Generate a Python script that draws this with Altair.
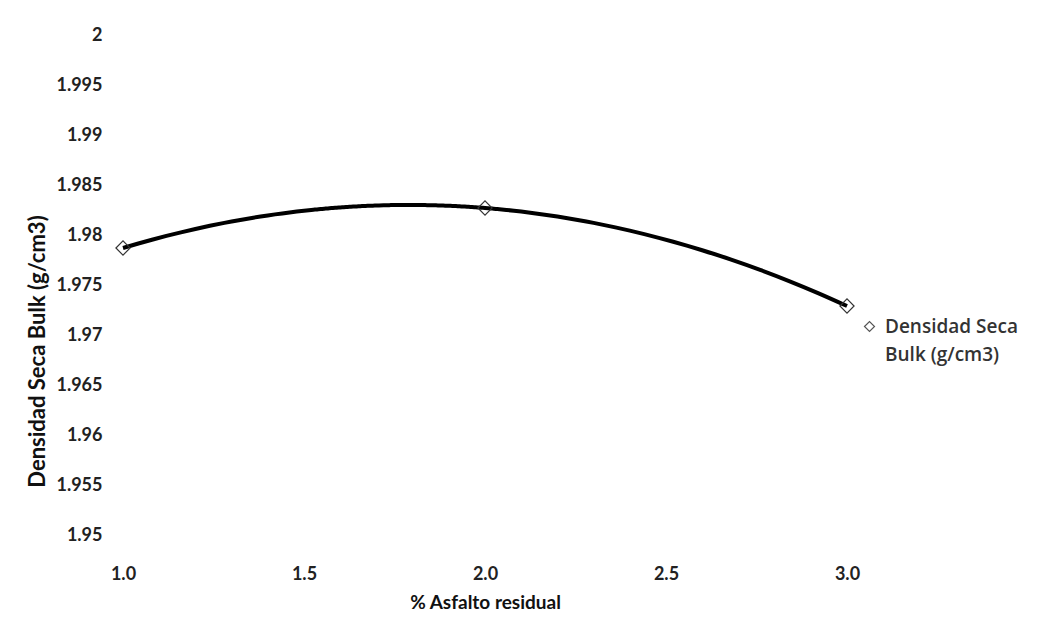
import altair as alt
import pandas as pd

asfalto = [1.0, 2.0, 3.0]
densidad = [1.9787, 1.9827, 1.9729]
serie = "Densidad Seca Bulk (g/cm3)"

df = pd.DataFrame({"x": asfalto, "y": densidad, "s": [serie] * 3})

xs = alt.Scale(domain=[1.0, 3.0], nice=False, zero=False)
ys = alt.Scale(domain=[1.95, 2.0], nice=False, zero=False)

xax = alt.Axis(values=[1.0, 1.5, 2.0, 2.5, 3.0], format=".1f", grid=False, domain=False, ticks=False,
               labelPadding=30, labelFontSize=18, labelFont="Lato", labelFontWeight="bold", labelColor="#222",
               title="% Asfalto residual", titleFontSize=19, titleFont="Lato", titleFontWeight="bold",
               titlePadding=10, titleColor="#111", labelFlush=False)
yax = alt.Axis(values=[1.95 + 0.005 * i for i in range(11)], grid=False, domain=False, ticks=False,
               labelExpr="datum.value == 2 ? '2' : format(datum.value, '.3~f')",
               labelPadding=21, labelFontSize=18, labelFont="Lato", labelFontWeight="bold", labelColor="#222",
               title="Densidad Seca Bulk (g/cm3)", titleFontSize=22, titleFont="Lato", titleFontWeight="bold",
               titleX=-74, titleY=316, titleColor="#111")

fit = alt.Chart(df).transform_regression("x", "y", method="poly", order=2, extent=[1.0, 3.0]).mark_line(
    color="black", strokeWidth=4, interpolate="monotone"
).encode(
    x=alt.X("x:Q", scale=xs, axis=xax),
    y=alt.Y("y:Q", scale=ys, axis=yax),
)

pts = alt.Chart(df).mark_point(shape="diamond", size=200, filled=False, color="#333",
                               strokeWidth=1.2, opacity=1).encode(
    x=alt.X("x:Q", scale=xs),
    y=alt.Y("y:Q", scale=ys),
    shape=alt.Shape("s:N", scale=alt.Scale(range=["diamond"]),
                    legend=alt.Legend(title=None, orient="none", legendX=737, legendY=282,
                                      labelFont="Open Sans", labelFontSize=19, labelColor="#333",
                                      labelFontWeight=600,
                                      labelExpr="['Densidad Seca', 'Bulk (g/cm3)']",
                                      symbolStrokeColor="#555", symbolType="diamond",
                                      symbolStrokeWidth=1.2, symbolSize=100, labelLimit=300,
                                      labelOffset=6)),
)

chart = (fit + pts).properties(
    width=724, height=500,
    padding={"left": 123, "top": 35, "right": 216, "bottom": 91},
    autosize=alt.AutoSizeParams(type="none"),
).configure(background="white", view=alt.ViewConfig(stroke=None),
            style={"guide-label": {"lineHeight": 28}})

chart.save("out.html", embed_options={"renderer": "svg", "actions": False})
